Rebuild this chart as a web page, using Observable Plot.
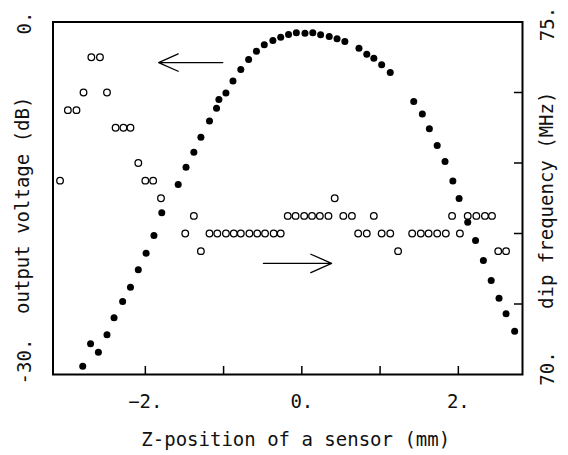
<!DOCTYPE html>
<html>
<head>
<meta charset="utf-8">
<script src="https://cdn.jsdelivr.net/npm/d3@7"></script>
<script src="https://cdn.jsdelivr.net/npm/@observablehq/plot@0.6"></script>
<style>
  html, body { margin: 0; padding: 0; background: #fff; }
  #chart svg { display: block; }
</style>
</head>
<body>
<div id="chart"></div>
<script>
// Output voltage (filled dots), left axis, dB
const posVoltage = [-2.80,-2.70,-2.60,-2.49,-2.40,-2.29,-2.19,-2.09,-1.99,-1.89,-1.79,
  -1.58,-1.48,-1.38,-1.29,-1.18,-1.09,-1.06,-0.97,-0.88,-0.78,-0.68,-0.58,-0.48,-0.37,
  -0.27,-0.17,-0.07,0.04,0.14,0.24,0.35,0.45,0.55,0.73,0.83,0.92,1.02,1.13,
  1.43,1.54,1.63,1.73,1.83,1.93,2.01,2.12,2.22,2.32,2.42,2.52,2.61,2.72];
const voltageDb = [-29.29,-27.39,-28.10,-26.62,-25.17,-23.79,-22.57,-21.09,-19.68,-18.17,-16.24,
  -13.82,-12.36,-11.08,-9.80,-8.43,-7.34,-6.60,-6.04,-5.02,-4.04,-3.19,-2.49,-1.94,-1.57,
  -1.29,-1.06,-0.92,-0.95,-0.92,-1.09,-1.23,-1.43,-1.66,-2.24,-2.75,-3.09,-3.64,-4.30,
  -6.77,-7.84,-9.09,-10.51,-11.87,-13.53,-15.02,-17.04,-18.60,-20.30,-22.00,-23.51,-24.83,-26.31];

// Dip frequency (open circles), right axis, MHz
const posFreq = [-3.09,-2.99,-2.88,-2.79,-2.69,-2.58,-2.49,-2.38,-2.28,-2.19,-2.09,-2.00,-1.90,-1.80,
  -1.49,-1.38,-1.29,-1.18,-1.08,-0.97,-0.87,-0.78,-0.67,-0.57,-0.47,-0.36,-0.27,
  -0.18,-0.08,0.03,0.13,0.23,0.34,0.42,0.53,0.64,0.72,0.83,0.92,1.02,1.13,1.23,
  1.41,1.52,1.62,1.73,1.84,1.92,2.02,2.12,2.23,2.34,2.43,2.51,2.61];
const freqMHz = [72.75,73.75,73.75,74.0,74.5,74.5,74.0,73.5,73.5,73.5,73.0,72.75,72.75,72.5,
  72.0,72.25,71.75,72.0,72.0,72.0,72.0,72.0,72.0,72.0,72.0,72.0,72.0,
  72.25,72.25,72.25,72.25,72.25,72.25,72.5,72.25,72.25,72.0,72.0,72.25,72.0,72.0,71.75,
  72.0,72.0,72.0,72.0,72.0,72.25,72.0,72.25,72.25,72.25,72.25,71.75,71.75];

// Axes
const xTicks = [-2, -1, 0, 1, 2];
const xTickLabels = [-2, 0, 2];
const dbTickLabels = [0, -30];
const mhzTicks = [71, 72, 73, 74];
const mhzTickLabels = [75, 70];
const xTitle = "Z-position of a sensor (mm)";
const leftTitle = "output voltage (dB)";
const rightTitle = "dip frequency (MHz)";

// Arrows (annotation, in data units: mm, dB)
const arrowFrom = [[-1.01, -3.45], [-0.49, -20.55]];
const arrowTo   = [[-1.83, -3.45], [0.38, -20.55]];

// right axis (70..75 MHz) mapped onto left axis (-30..0 dB)
const toDb = f => (f - 75) * 6;

const voltage = posVoltage.map((x, i) => ({x, y: voltageDb[i]}));
const freq = posFreq.map((x, i) => ({x, f: freqMHz[i]}));
const arrows = arrowFrom.map((a, i) => ({x1: a[0], y1: a[1], x2: arrowTo[i][0], y2: arrowTo[i][1]}));

const W = 568, H = 455;
const mL = 52.5, mR = 46, mT = 21.5, mB = 81;
const font = "DejaVu Sans Mono";
const fs = 19;
const ink = "#111";
const numFmt = d => (d < 0 ? "\u2212" : "") + Math.abs(d) + ".";
const txt = {fontSize: fs, fontFamily: font, fill: ink, textAnchor: "middle", lineAnchor: "middle"};

const chart = Plot.plot({
  width: W,
  height: H,
  marginLeft: mL,
  marginRight: mR,
  marginTop: mT,
  marginBottom: mB,
  x: {domain: [-3.18, 2.82], axis: null},
  y: {domain: [-30, 0], axis: null},
  style: {fontFamily: font, background: "#fff"},
  marks: [
    // bottom inward ticks
    Plot.tickX(xTicks, {x: d => d, insetTop: (H - mT - mB) - 8, stroke: "#000", strokeWidth: 1.5}),
    // right inward ticks
    Plot.tickY(mhzTicks, {y: d => toDb(d), insetLeft: (W - mL - mR) - 8, stroke: "#000", strokeWidth: 1.5}),
    // open circles
    Plot.dot(freq, {x: "x", y: d => toDb(d.f), r: 3.3, stroke: "#000", strokeWidth: 1.3, fill: "#fff"}),
    // filled dots
    Plot.dot(voltage, {x: "x", y: "y", r: 3.5, fill: "#000"}),
    // arrows
    Plot.arrow(arrows, {x1: "x1", y1: "y1", x2: "x2", y2: "y2", stroke: "#000", strokeWidth: 1.3, headAngle: 48, headLength: 30}),
    Plot.frame({stroke: "#000", strokeWidth: 2}),
    // x tick labels
    Plot.text(xTickLabels, {x: d => d, frameAnchor: "bottom", dy: 27, text: numFmt, ...txt}),
    // x title
    Plot.text([xTitle], {frameAnchor: "bottom", dy: 65, dx: 8, text: d => d, ...txt}),
    // left tick labels
    Plot.text([dbTickLabels[0]], {y: d => d, frameAnchor: "left", dx: -28, dy: 1, rotate: -90, text: d => d + ".", ...txt}),
    Plot.text([dbTickLabels[1]], {y: d => d, frameAnchor: "left", dx: -28, dy: -13, rotate: -90, text: d => d + ".", ...txt}),
    Plot.text([leftTitle], {frameAnchor: "left", dx: -30, dy: 7, rotate: -90, text: d => d, ...txt}),
    // right tick labels
    Plot.text([mhzTickLabels[0]], {y: d => toDb(d), frameAnchor: "right", dx: 25, dy: 2, rotate: -90, text: d => d + ".", ...txt}),
    Plot.text([mhzTickLabels[1]], {y: d => toDb(d), frameAnchor: "right", dx: 25, dy: -6, rotate: -90, text: d => d + ".", ...txt}),
    Plot.text([rightTitle], {frameAnchor: "right", dx: 24, dy: 2, rotate: -90, text: d => d, ...txt})
  ]
});
document.getElementById("chart").appendChild(chart);
</script>
</body>
</html>
